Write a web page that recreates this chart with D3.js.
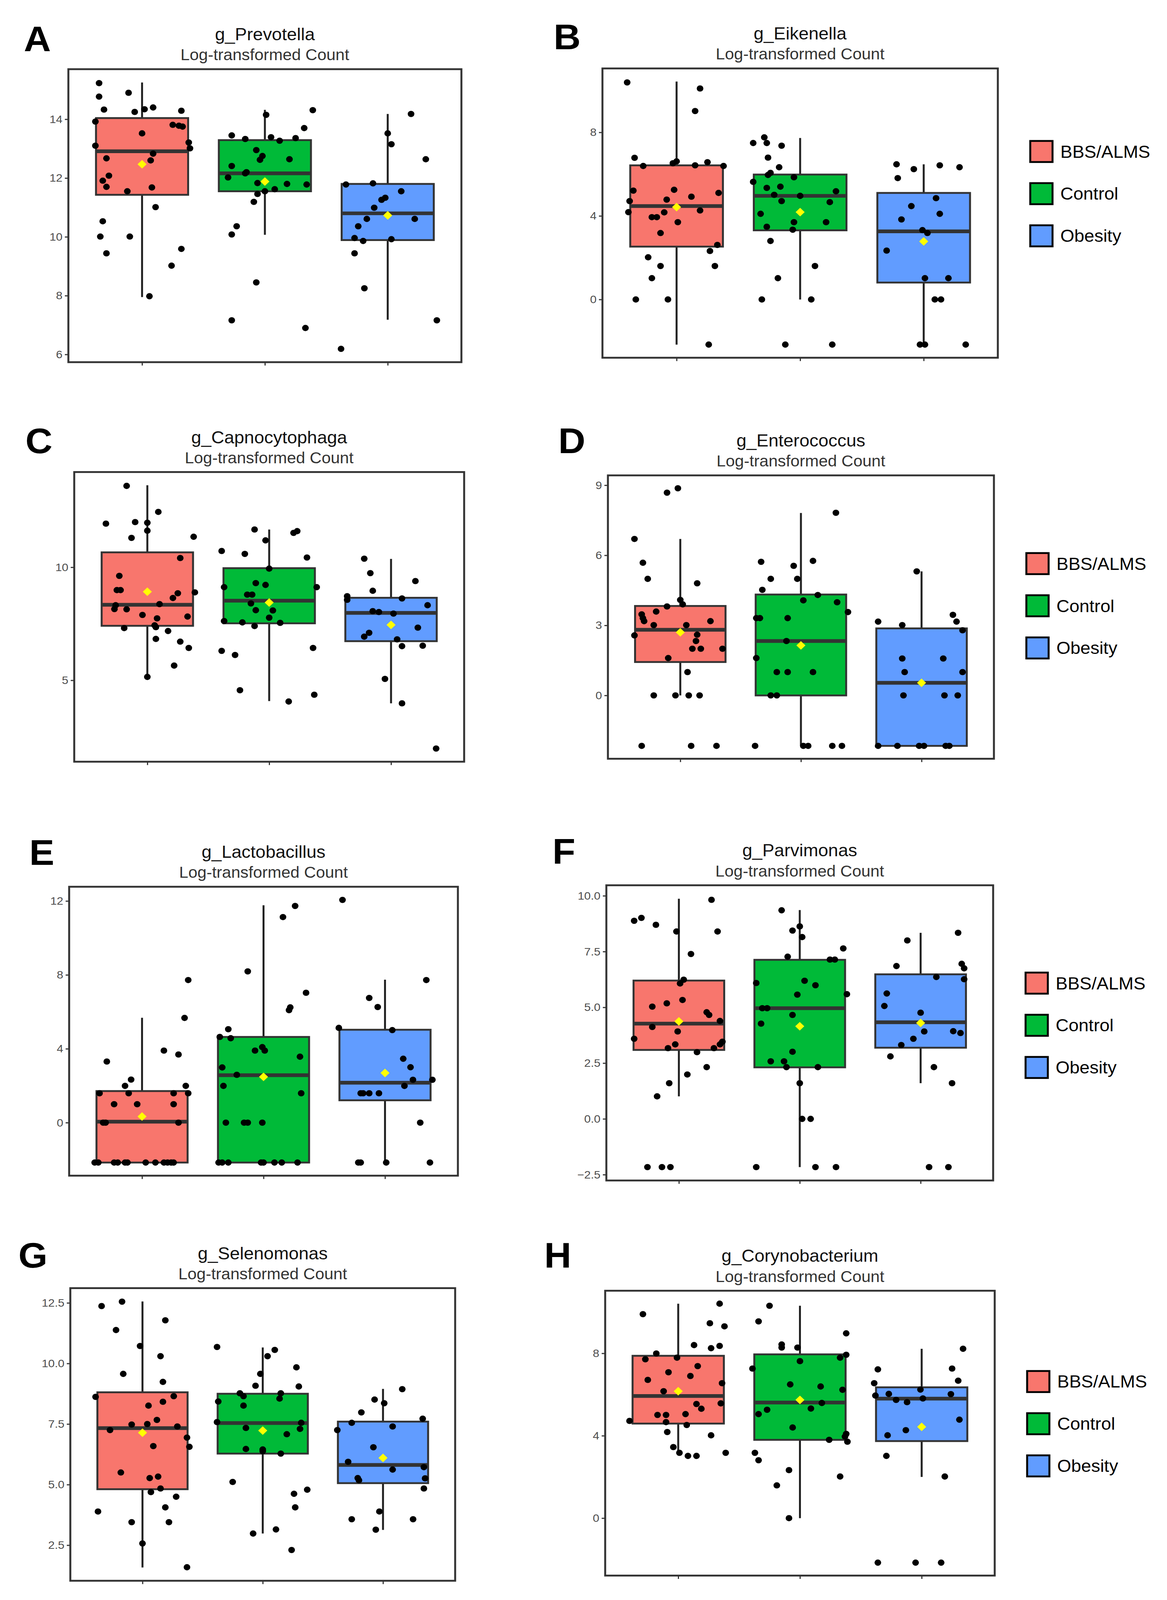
<!DOCTYPE html>
<html>
<head>
<meta charset="utf-8">
<script src="https://cdn.jsdelivr.net/npm/d3@7"></script>
<style>
  html, body { margin: 0; padding: 0; background: #fff; overflow: hidden; }
  #chart svg { display: block; width: 100vw; height: 100vh; }
  text { font-family: "Liberation Sans", Arial, sans-serif; }
</style>
</head>
<body>
<div id="chart"></div>
<script>
var svgWidth = 2987;
var svgHeight = 4325;

var groups = ["BBS/ALMS", "Control", "Obesity"];
var groupColors = ["#F8766D", "#00BA38", "#619CFF"];

// box stats per group: [whisker low, Q1, median, Q3, whisker high]
// A - g_Prevotella
var prevotellaBox = [[7.95, 11.43, 12.91, 14.04, 15.25], [10.07, 11.55, 12.16, 13.29, 14.32], [7.18, 9.89, 10.80, 11.80, 14.18]];
var prevotellaMean = [12.47, 11.88, 10.73];
var prevotellaVals = [
    [15.23, 14.77, 14.33, 14.90, 14.25, 14.34, 14.40, 14.29, 13.92, 13.81, 13.78, 13.75, 13.52, 13.21, 13.01, 13.10, 12.83, 12.67, 12.60, 12.08, 11.91, 11.70, 11.68, 11.55, 11.01, 10.53, 10.01, 10.01, 9.44, 9.59, 9.02, 7.98],
    [14.31, 14.15, 13.70, 13.45, 13.33, 13.39, 13.27, 13.36, 12.95, 12.75, 12.62, 12.64, 12.41, 12.20, 12.16, 12.02, 11.83, 11.80, 11.78, 11.55, 11.62, 11.46, 11.19, 10.36, 10.08, 8.45, 7.16, 6.90],
    [14.18, 13.52, 13.15, 12.64, 11.78, 11.82, 11.55, 11.33, 11.26, 10.99, 10.61, 10.61, 10.36, 9.96, 9.86, 9.92, 9.44, 8.25, 7.16, 6.19]
];
var prevotellaJit = [
    [-0.35, -0.35, -0.31, -0.11, -0.06, 0.02, 0.09, 0.32, -0.38, 0.25, 0.30, 0.33, 0.00, 0.38, 0.39, -0.38, 0.09, -0.29, 0.07, -0.27, -0.32, -0.29, 0.08, -0.12, 0.11, -0.32, -0.34, -0.10, -0.29, 0.32, 0.24, 0.06],
    [0.39, 0.01, 0.32, -0.27, -0.16, 0.05, 0.12, 0.25, -0.07, -0.02, -0.04, 0.20, -0.27, -0.15, -0.16, -0.30, -0.06, 0.18, 0.34, 0.00, 0.08, -0.06, -0.09, -0.23, -0.27, -0.07, -0.27, 0.33],
    [0.19, 0.00, 0.03, 0.31, -0.34, -0.12, 0.11, -0.02, -0.05, -0.11, -0.17, 0.22, -0.24, -0.27, -0.20, 0.03, -0.27, -0.19, 0.40, -0.38]
];
var prevotellaTicks = [6, 8, 10, 12, 14];

// B - g_Eikenella
var eikenellaBox = [[-2.16, 2.53, 4.47, 6.42, 10.43], [0, 3.31, 4.96, 5.98, 7.73], [-2.16, 0.81, 3.26, 5.10, 6.47]];
var eikenellaMean = [4.42, 4.18, 2.78];
var eikenellaVals = [
    [10.39, 10.10, 9.02, 6.78, 6.61, 6.52, 6.39, 6.42, 6.57, 6.39, 5.21, 5.25, 5.10, 4.71, 4.78, 4.92, 4.18, 3.94, 3.94, 4.17, 4.26, 3.70, 3.18, 2.61, 2.32, 2.02, 1.60, 1.60, 1.02, 0, 0, -2.16],
    [7.76, 7.49, 7.49, 7.36, 6.79, 6.33, 6.06, 5.96, 5.85, 5.63, 5.34, 5.40, 5.18, 5.01, 4.96, 4.71, 4.66, 4.10, 3.70, 3.70, 3.48, 3.34, 2.80, 1.60, 1.02, 0, 0, -2.16, -2.16],
    [6.47, 6.24, 6.42, 6.33, 5.81, 4.85, 4.47, 4.10, 3.83, 3.32, 3.18, 2.34, 1.02, 1.02, 0, 0, -2.16, -2.16, -2.16]
];
var eikenellaJit = [
    [-0.40, 0.19, 0.15, -0.34, 0.00, -0.03, -0.27, 0.15, 0.25, 0.38, -0.35, -0.02, 0.34, -0.38, -0.08, 0.12, -0.39, -0.20, -0.16, -0.10, 0.19, 0.01, -0.13, 0.33, 0.27, -0.23, -0.13, 0.31, -0.20, -0.33, -0.07, 0.26],
    [-0.29, -0.38, -0.27, -0.15, -0.26, -0.17, -0.24, -0.26, -0.05, -0.38, -0.27, -0.16, 0.29, -0.21, 0.00, -0.15, 0.24, -0.32, -0.05, 0.21, -0.27, -0.06, -0.24, 0.12, -0.18, -0.31, 0.09, -0.12, 0.26],
    [-0.22, -0.08, 0.13, 0.29, -0.21, 0.10, -0.10, 0.13, -0.18, -0.01, 0.03, -0.30, 0.01, 0.20, 0.09, 0.14, -0.03, 0.01, 0.34]
];
var eikenellaTicks = [0, 4, 8];

// C - g_Capnocytophaga
var capnoBox = [[5.15, 7.41, 8.34, 10.66, 13.63], [4.08, 7.52, 8.52, 9.96, 11.67], [3.98, 6.73, 7.98, 8.65, 10.37]];
var capnoMean = [8.92, 8.44, 7.45];
var capnoVals = [
    [13.60, 12.45, 11.93, 12.00, 11.97, 11.62, 11.30, 11.35, 10.41, 9.62, 8.99, 8.99, 8.85, 8.89, 8.64, 8.37, 8.32, 8.15, 8.14, 7.89, 7.82, 7.74, 7.43, 7.35, 7.31, 7.18, 6.83, 6.71, 6.43, 5.65, 5.15],
    [11.67, 11.52, 11.60, 11.19, 10.72, 10.59, 10.43, 9.94, 9.30, 9.22, 9.12, 9.12, 8.79, 8.79, 8.40, 8.10, 8.09, 7.77, 7.62, 7.56, 7.54, 7.40, 6.30, 6.43, 6.12, 4.56, 4.36, 4.06],
    [10.38, 9.74, 9.39, 8.96, 8.72, 8.56, 8.62, 8.32, 8.06, 8.02, 7.95, 7.33, 7.10, 6.93, 6.81, 6.51, 6.53, 5.06, 3.98, 1.98]
];
var capnoJit = [
    [-0.17, 0.09, -0.34, -0.10, 0.00, 0.00, -0.13, 0.38, 0.27, -0.23, -0.25, -0.22, 0.25, 0.39, 0.21, 0.10, -0.26, -0.27, -0.17, -0.04, 0.33, 0.08, 0.06, 0.07, -0.19, 0.17, 0.07, 0.27, 0.34, 0.22, 0.00],
    [-0.12, 0.20, 0.23, -0.03, -0.39, -0.20, 0.31, 0.00, -0.11, -0.03, -0.37, 0.39, -0.18, -0.14, -0.15, -0.11, 0.03, 0.00, -0.37, -0.22, 0.09, -0.12, -0.39, 0.36, -0.28, -0.24, 0.37, 0.16],
    [-0.22, -0.17, 0.20, -0.15, -0.36, -0.36, 0.09, 0.30, -0.15, -0.10, 0.02, 0.22, -0.18, -0.22, 0.05, 0.09, 0.26, -0.05, 0.09, 0.37]
];
var capnoTicks = [5, 10];

// D - g_Enterococcus
var enteroBox = [[0, 1.43, 2.81, 3.83, 6.70], [-2.16, 0, 2.33, 4.32, 7.81], [-2.16, -2.16, 0.54, 2.87, 5.31]];
var enteroMean = [2.70, 2.14, 0.54];
var enteroVals = [
    [8.87, 8.68, 6.70, 5.68, 4.99, 4.80, 4.09, 3.90, 3.81, 3.59, 3.47, 3.31, 3.18, 3.18, 3.01, 3.01, 2.57, 2.60, 2.33, 2.00, 2.00, 2.00, 1.60, 1.00, 0, 0, 0, 0, -2.16, -2.16, -2.16],
    [7.82, 5.72, 5.76, 5.55, 4.99, 4.99, 4.52, 4.30, 4.07, 3.99, 3.57, 3.31, 3.31, 3.31, 2.33, 1.60, 1.00, 1.00, 1.00, 0, 0, -2.16, -2.16, -2.16, -2.16, -2.16],
    [5.31, 3.16, 3.01, 3.45, 3.16, 2.79, 1.58, 1.58, 1.00, 1.00, 0, 0, 0, -2.16, -2.16, -2.16, -2.16, -2.16, -2.16]
];
var enteroJit = [
    [-0.02, -0.11, -0.38, -0.31, -0.27, 0.14, 0.00, 0.02, -0.11, -0.20, -0.32, -0.31, -0.30, 0.25, -0.22, 0.05, -0.38, 0.14, 0.13, 0.10, 0.17, 0.35, -0.10, 0.06, -0.22, -0.04, 0.07, 0.16, -0.32, 0.09, 0.30],
    [0.29, -0.33, 0.10, -0.06, -0.25, -0.03, -0.32, 0.14, 0.02, 0.30, 0.39, -0.37, -0.34, -0.11, -0.12, -0.37, -0.20, -0.11, 0.10, -0.25, -0.20, -0.38, 0.02, 0.06, 0.26, 0.34],
    [-0.04, -0.36, -0.16, 0.26, 0.29, 0.34, -0.16, 0.18, -0.14, 0.34, -0.15, 0.19, 0.30, -0.36, -0.20, -0.02, 0.02, 0.20, 0.23]
];
var enteroTicks = [0, 3, 6, 9];

// E - g_Lactobacillus
var lactoBox = [[-2.16, -2.16, 0.05, 1.71, 5.68], [-2.16, -2.16, 2.57, 4.64, 11.77], [-2.16, 1.21, 2.16, 5.03, 7.74]];
var lactoMean = [0.33, 2.48, 2.69];
var lactoVals = [
    [7.72, 5.67, 3.90, 3.69, 3.31, 2.33, 1.99, 1.99, 1.59, 1.59, 1.59, 1.59, 1.00, 1.00, 1.00, 0, 0, 0, -2.16, -2.16, -2.16, -2.16, -2.16, -2.16, -2.16, -2.16, -2.16, -2.16, -2.16, -2.16],
    [11.73, 11.13, 8.19, 7.03, 6.24, 6.09, 5.06, 4.64, 4.57, 3.90, 4.09, 3.90, 3.57, 2.99, 2.59, 1.99, 1.59, 0, 0, 0, 0, -2.16, -2.16, -2.16, -2.16, -2.16, -2.16, -2.16, -2.16],
    [12.06, 7.72, 6.75, 6.26, 5.13, 5.01, 3.46, 3.00, 2.32, 2.32, 1.99, 1.59, 1.59, 1.59, 1.59, 0, -2.16, -2.16, -2.16, -2.16]
];
var lactoJit = [
    [0.38, 0.35, 0.18, 0.30, -0.29, -0.09, -0.14, 0.36, -0.35, -0.11, 0.26, 0.38, -0.23, -0.04, 0.26, -0.32, -0.30, 0.30, -0.39, -0.36, -0.23, -0.20, -0.14, -0.12, 0.03, 0.11, 0.18, 0.21, 0.24, 0.26],
    [0.26, 0.16, -0.13, 0.35, 0.22, 0.21, -0.29, -0.36, -0.27, -0.07, -0.01, 0.01, 0.30, -0.34, -0.22, -0.33, 0.31, -0.31, -0.16, -0.13, -0.01, -0.37, -0.34, -0.29, -0.02, 0.00, 0.09, 0.15, 0.28],
    [-0.35, 0.34, -0.13, -0.06, -0.38, 0.06, 0.15, 0.21, 0.23, 0.39, 0.16, -0.20, -0.18, -0.13, -0.05, 0.29, -0.22, -0.20, 0.01, 0.37]
];
var lactoTicks = [0, 4, 8, 12];

// F - g_Parvimonas
var parviBox = [[1.01, 3.09, 4.27, 6.20, 9.87], [-2.16, 2.31, 4.96, 7.13, 9.36], [1.60, 3.19, 4.33, 6.48, 8.34]];
var parviMean = [4.37, 4.15, 4.30];
var parviVals = [
    [9.82, 9.01, 8.88, 8.70, 8.40, 8.40, 7.39, 6.24, 6.07, 5.33, 5.18, 5.03, 4.78, 4.66, 4.39, 4.12, 3.92, 3.59, 3.46, 3.34, 3.34, 3.17, 3.17, 2.99, 2.32, 1.99, 1.60, 1.01, -2.16, -2.16, -2.16],
    [9.35, 8.63, 8.44, 8.15, 7.64, 7.27, 7.14, 7.14, 6.09, 6.19, 5.99, 5.57, 5.59, 4.96, 4.96, 4.66, 4.27, 3.01, 2.58, 2.58, 2.32, 2.32, 1.60, 0, 0, -2.16, -2.16, -2.16],
    [8.34, 8.00, 6.85, 6.95, 6.75, 6.36, 6.26, 5.62, 5.06, 4.76, 3.92, 3.93, 3.85, 3.59, 3.31, 2.80, 2.32, 1.60, -2.16, -2.16]
];
var parviJit = [
    [0.27, -0.31, -0.37, -0.19, -0.02, 0.32, 0.10, 0.04, 0.01, 0.03, -0.10, -0.22, 0.23, 0.25, 0.34, -0.22, -0.01, -0.37, 0.36, 0.34, -0.03, -0.09, 0.29, 0.15, 0.23, 0.07, -0.08, -0.18, -0.26, -0.14, -0.07],
    [-0.15, 0.00, -0.06, 0.02, 0.36, -0.10, 0.25, 0.29, -0.36, 0.04, 0.13, -0.02, 0.39, -0.31, -0.27, -0.06, -0.32, -0.06, -0.24, -0.13, -0.11, 0.15, 0.00, 0.02, 0.09, -0.36, 0.13, 0.30],
    [0.31, -0.11, -0.20, 0.34, 0.36, 0.13, 0.36, -0.28, -0.30, 0.00, 0.03, 0.27, 0.33, -0.06, -0.16, -0.25, 0.11, 0.26, 0.07, 0.23]
];
var parviTicks = [-2.5, 0, 2.5, 5, 7.5, 10];

// G - g_Selenomonas
var selenoBox = [[1.58, 4.81, 7.33, 8.81, 12.56], [2.98, 6.28, 7.54, 8.75, 10.66], [3.13, 5.06, 5.81, 7.60, 8.95]];
var selenoMean = [7.14, 7.23, 6.10];
var selenoVals = [
    [12.55, 12.37, 11.38, 11.78, 10.72, 10.30, 9.57, 9.24, 8.62, 8.65, 8.42, 8.26, 7.48, 7.50, 7.67, 7.40, 7.25, 6.94, 6.56, 6.59, 5.50, 5.27, 5.33, 4.84, 4.69, 4.50, 3.89, 4.06, 3.45, 3.45, 2.57, 1.59],
    [10.68, 10.56, 10.30, 9.84, 9.57, 9.08, 9.05, 8.77, 8.65, 8.77, 8.55, 8.43, 8.26, 7.58, 7.55, 7.34, 7.30, 7.08, 6.47, 6.45, 6.38, 6.28, 5.11, 4.79, 4.62, 4.06, 3.15, 2.98, 2.30],
    [8.94, 8.51, 8.36, 7.98, 7.55, 7.72, 7.25, 7.40, 6.54, 5.94, 5.72, 5.62, 5.27, 5.18, 5.26, 4.84, 3.89, 3.57, 3.57, 3.14]
];
var selenoJit = [
    [-0.17, -0.34, -0.22, 0.19, -0.02, 0.15, -0.16, 0.17, -0.39, 0.26, 0.17, 0.05, -0.09, 0.04, 0.12, 0.29, -0.27, 0.37, 0.39, 0.09, -0.18, 0.06, 0.13, 0.15, 0.07, 0.28, -0.37, 0.19, -0.09, 0.22, 0.00, 0.37],
    [-0.38, 0.10, 0.04, 0.28, -0.02, -0.06, 0.30, -0.19, -0.16, 0.15, 0.14, -0.37, -0.16, -0.38, 0.32, -0.14, 0.31, 0.20, -0.14, 0.00, 0.00, 0.15, -0.25, 0.37, 0.26, 0.27, 0.11, -0.08, 0.24],
    [0.16, -0.07, 0.01, -0.18, -0.26, 0.33, -0.38, 0.08, -0.08, -0.29, 0.34, 0.08, -0.21, -0.20, 0.35, 0.34, -0.03, -0.26, 0.25, -0.06]
];
var selenoTicks = [2.5, 5, 7.5, 10, 12.5];

// H - g_Corynobacterium
var corynoBox = [[3.13, 4.59, 5.93, 7.88, 10.41], [0, 3.80, 5.61, 7.95, 10.31], [2.00, 3.74, 5.80, 6.35, 8.22]];
var corynoMean = [6.16, 5.74, 4.43];
var corynoVals = [
    [10.41, 9.90, 9.46, 9.31, 8.40, 8.36, 8.25, 7.99, 7.79, 7.71, 7.38, 7.08, 6.90, 6.71, 6.55, 6.16, 5.54, 5.57, 5.31, 5.01, 5.01, 5.05, 4.72, 4.66, 4.52, 4.18, 4.02, 3.45, 3.17, 3.02, 3.02, 3.17],
    [10.31, 9.55, 8.97, 8.43, 8.28, 8.28, 7.93, 7.79, 7.62, 7.26, 6.49, 6.39, 6.23, 5.59, 5.32, 5.26, 5.05, 4.40, 4.09, 3.96, 3.80, 3.71, 3.17, 2.81, 2.33, 2.02, 1.59, 0],
    [8.22, 7.22, 7.26, 6.55, 6.67, 6.24, 5.95, 6.03, 6.02, 5.81, 5.74, 5.63, 4.78, 4.27, 4.02, 3.02, 2.02, -2.16, -2.16, -2.16]
];
var corynoJit = [
    [0.34, -0.29, 0.26, 0.38, 0.13, 0.34, 0.27, -0.18, -0.01, -0.27, 0.16, -0.08, 0.10, -0.25, 0.36, -0.12, 0.15, 0.35, 0.19, -0.17, -0.10, 0.06, -0.40, -0.10, 0.07, -0.09, 0.27, -0.04, 0.01, 0.08, 0.15, 0.39],
    [-0.25, -0.34, 0.38, -0.15, -0.15, -0.02, 0.38, 0.33, 0.00, -0.39, -0.08, 0.17, 0.35, 0.18, 0.09, -0.27, -0.34, -0.06, 0.38, 0.37, 0.24, 0.39, -0.37, -0.34, -0.09, 0.33, -0.19, -0.09],
    [0.34, -0.36, 0.25, -0.39, 0.30, -0.01, -0.38, -0.27, 0.24, 0.01, -0.21, -0.12, 0.31, -0.13, -0.28, -0.29, 0.19, -0.36, -0.05, 0.16]
];
var corynoTicks = [0, 4, 8];

// panel layout (pixels in the 2987 x 4325 frame)
var panels = [
    { tag: "A", title: "g_Prevotella", box: prevotellaBox, mean: prevotellaMean, vals: prevotellaVals, jit: prevotellaJit, ticks: prevotellaTicks, fmt: "d",
      left: 175, right: 1181, top: 187, bottom: 979, tagX: 61, tagY: 138, legend: false },
    { tag: "B", title: "g_Eikenella", box: eikenellaBox, mean: eikenellaMean, vals: eikenellaVals, jit: eikenellaJit, ticks: eikenellaTicks, fmt: "d",
      left: 1542, right: 2554, top: 185, bottom: 967, tagX: 1417, tagY: 133, legend: true, legendTop: 381 },
    { tag: "C", title: "g_Capnocytophaga", box: capnoBox, mean: capnoMean, vals: capnoVals, jit: capnoJit, ticks: capnoTicks, fmt: "d",
      left: 190, right: 1188, top: 1276, bottom: 2059, tagX: 65, tagY: 1225, legend: false },
    { tag: "D", title: "g_Enterococcus", box: enteroBox, mean: enteroMean, vals: enteroVals, jit: enteroJit, ticks: enteroTicks, fmt: "d",
      left: 1556, right: 2544, top: 1285, bottom: 2051, tagX: 1429, tagY: 1225, legend: true, legendTop: 1495 },
    { tag: "E", title: "g_Lactobacillus", box: lactoBox, mean: lactoMean, vals: lactoVals, jit: lactoJit, ticks: lactoTicks, fmt: "d",
      left: 177, right: 1172, top: 2397, bottom: 3178, tagX: 75, tagY: 2338, legend: false },
    { tag: "F", title: "g_Parvimonas", box: parviBox, mean: parviMean, vals: parviVals, jit: parviJit, ticks: parviTicks, fmt: ".1f",
      left: 1552, right: 2542, top: 2393, bottom: 3191, tagX: 1414, tagY: 2335, legend: true, legendTop: 2629 },
    { tag: "G", title: "g_Selenomonas", box: selenoBox, mean: selenoMean, vals: selenoVals, jit: selenoJit, ticks: selenoTicks, fmt: ".1f",
      left: 180, right: 1165, top: 3482, bottom: 4273, tagX: 47, tagY: 3426, legend: false },
    { tag: "H", title: "g_Corynobacterium", box: corynoBox, mean: corynoMean, vals: corynoVals, jit: corynoJit, ticks: corynoTicks, fmt: "d",
      left: 1549, right: 2546, top: 3489, bottom: 4259, tagX: 1393, tagY: 3426, legend: true, legendTop: 3706 }
];

// the svg is stretched over the whole viewport so the full frame is always in view
var svg = d3.select("#chart")
    .append("svg")
    .attr("viewBox", `0 0 ${svgWidth} ${svgHeight}`)
    .attr("preserveAspectRatio", "none")
    .style("background", "#fff");

panels.forEach(drawPanel);

function drawPanel(p) {
    var g = svg.append("g");

    // y range like ggplot: data extent + 5% each side
    var all = d3.merge(p.vals).concat(d3.merge(p.box));
    var ext = d3.extent(all);
    var pad = (ext[1] - ext[0]) * 0.05;

    var y = d3.scaleLinear()
        .domain([ext[0] - pad, ext[1] + pad])
        .range([p.bottom, p.top]);

    var x = d3.scalePoint()
        .domain(groups)
        .range([p.left, p.right])
        .padding(0.6);

    var bw = x.step() * 0.75;

    // panel tag + titles
    g.append("text")
        .attr("x", p.tagX)
        .attr("y", p.tagY)
        .style("font-size", "96px")
        .style("font-weight", "bold")
        .text(p.tag);

    var cx = (p.left + p.right) / 2;
    g.append("text")
        .attr("x", cx)
        .attr("y", p.top - 78)
        .attr("text-anchor", "middle")
        .style("font-size", "46px")
        .style("fill", "#111")
        .text(p.title);

    g.append("text")
        .attr("x", cx)
        .attr("y", p.top - 24)
        .attr("text-anchor", "middle")
        .style("font-size", "42px")
        .style("fill", "#333")
        .text("Log-transformed Count");

    // axes
    var leftAxis = d3.axisLeft(y)
        .tickValues(p.ticks)
        .tickSize(9)
        .tickPadding(6)
        .tickFormat(d3.format(p.fmt));

    var ya = g.append("g")
        .attr("transform", `translate(${p.left}, 0)`)
        .call(leftAxis);
    ya.select(".domain").remove();
    ya.selectAll("line").attr("stroke", "#333").attr("stroke-width", 3);
    ya.selectAll("text")
        .style("font-size", "30px")
        .style("fill", "#4d4d4d")
        .style("font-family", "'Liberation Sans', Arial, sans-serif");

    var bottomAxis = d3.axisBottom(x).tickSize(9).tickFormat("");
    var xa = g.append("g")
        .attr("transform", `translate(0, ${p.bottom})`)
        .call(bottomAxis);
    xa.select(".domain").remove();
    xa.selectAll("line").attr("stroke", "#333").attr("stroke-width", 3);

    // whiskers
    groups.forEach(function (grp, i) {
        var b = p.box[i];
        g.append("line")
            .attr("x1", x(grp)).attr("x2", x(grp))
            .attr("y1", y(b[4])).attr("y2", y(b[3]))
            .attr("stroke", "#222").attr("stroke-width", 5);
        g.append("line")
            .attr("x1", x(grp)).attr("x2", x(grp))
            .attr("y1", y(b[1])).attr("y2", y(b[0]))
            .attr("stroke", "#222").attr("stroke-width", 5);
    });

    // boxes
    g.selectAll(".box")
        .data(p.box)
        .enter()
        .append("rect")
        .attr("x", (d, i) => x(groups[i]) - bw / 2)
        .attr("y", d => y(d[3]))
        .attr("width", bw)
        .attr("height", d => y(d[1]) - y(d[3]))
        .attr("fill", (d, i) => groupColors[i])
        .attr("stroke", "#333")
        .attr("stroke-width", 5);

    // medians
    g.selectAll(".median")
        .data(p.box)
        .enter()
        .append("line")
        .attr("x1", (d, i) => x(groups[i]) - bw / 2)
        .attr("x2", (d, i) => x(groups[i]) + bw / 2)
        .attr("y1", d => y(d[2]))
        .attr("y2", d => y(d[2]))
        .attr("stroke", "#333")
        .attr("stroke-width", 10);

    // jittered points
    groups.forEach(function (grp, i) {
        g.selectAll(".pt" + i)
            .data(p.vals[i])
            .enter()
            .append("circle")
            .attr("cx", (d, k) => x(grp) + p.jit[i][k] * x.step())
            .attr("cy", d => y(d))
            .attr("r", 8.5)
            .attr("fill", "#000");
    });

    // mean diamonds
    var diamond = d3.symbol().type(d3.symbolSquare).size(270);
    g.selectAll(".mean")
        .data(p.mean)
        .enter()
        .append("path")
        .attr("d", diamond)
        .attr("transform", (d, i) => `translate(${x(groups[i])}, ${y(d)}) rotate(45)`)
        .attr("fill", "#FFFF00");

    // panel border
    g.append("rect")
        .attr("x", p.left)
        .attr("y", p.top)
        .attr("width", p.right - p.left)
        .attr("height", p.bottom - p.top)
        .attr("fill", "none")
        .attr("stroke", "#333")
        .attr("stroke-width", 5);

    if (p.legend) {
        var lx = p.right + 83;
        groups.forEach(function (grp, i) {
            var ly = p.legendTop + i * 114;
            g.append("rect")
                .attr("x", lx)
                .attr("y", ly)
                .attr("width", 57)
                .attr("height", 57)
                .attr("fill", groupColors[i])
                .attr("stroke", "#000")
                .attr("stroke-width", 5);
            g.append("text")
                .attr("x", lx + 77)
                .attr("y", ly + 29)
                .attr("dy", "0.35em")
                .style("font-size", "46px")
                .text(grp);
        });
    }
}
</script>
</body>
</html>
